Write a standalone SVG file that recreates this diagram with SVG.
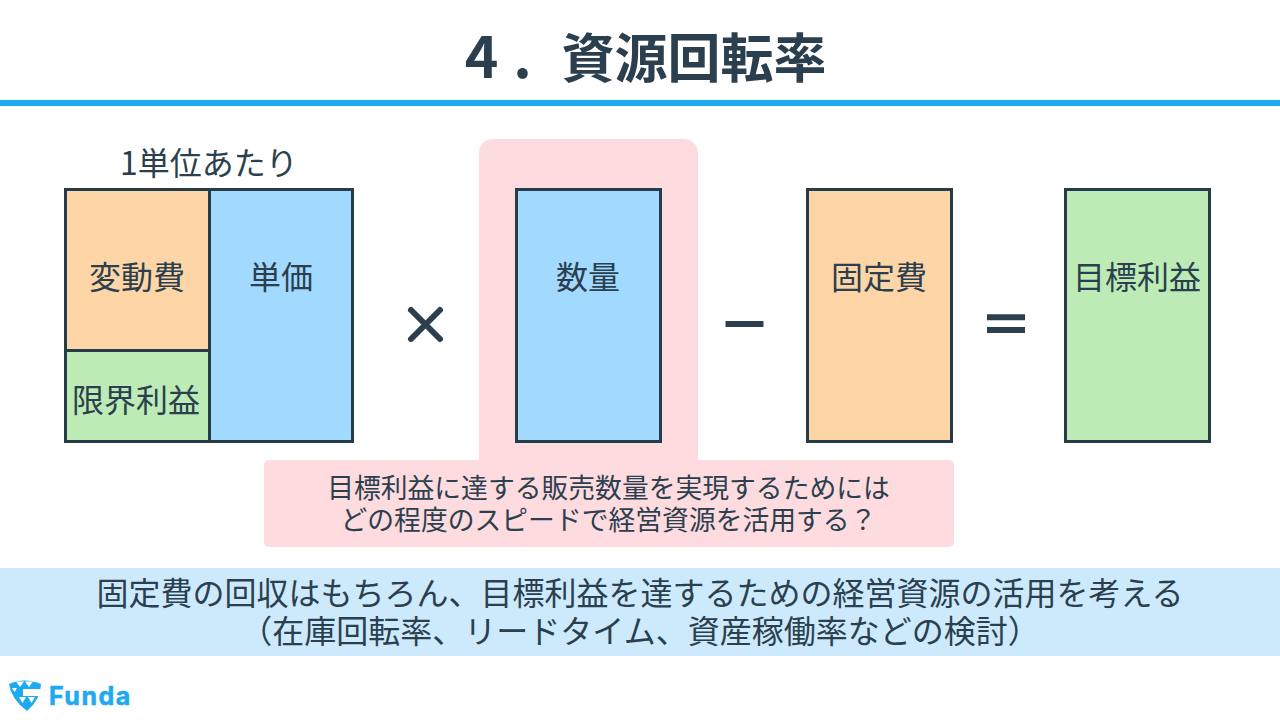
<svg xmlns="http://www.w3.org/2000/svg" width="1280" height="720" viewBox="0 0 1280 720">
<style>
text{font-family:"Noto Sans CJK JP","Noto Sans",sans-serif;fill:#2b3f4e;text-anchor:middle}
.box{stroke:#263c49;stroke-width:3}
.o{fill:#fed5a7}.b{fill:#a2daff}.g{fill:#bdebb5}.p{fill:#fedbdf}
.l{font-size:32px}.s{font-size:26.800px}.m{font-size:32px}
.op{fill:none;stroke:#2b3f4e;stroke-width:6}
.w{fill:#fff}
</style>
<rect width="1280" height="720" fill="#fff"/>
<g id="title"><text y="78" font-weight="700"><tspan x="481.500" font-size="57">4</tspan><tspan x="522.500" font-size="57">.</tspan><tspan x="694" font-size="53">資源回転率</tspan></text><rect y="100" width="1280" height="6" fill="#1eaaf1"/></g>
<g id="highlight"><rect class="p" x="479" y="139" width="219" height="340" rx="14"/></g>
<g id="unit-label"><text class="m" x="209" y="175">1単位あたり</text></g>
<g id="n-hendo"><rect class="box o" x="65.500" y="189.500" width="144" height="161"/><text class="l" x="137" y="289">変動費</text></g>
<g id="n-genkai"><rect class="box g" x="65.500" y="350.500" width="144" height="91"/><text class="l" x="136" y="412">限界利益</text></g>
<g id="n-tanka"><rect class="box b" x="209.500" y="189.500" width="143" height="252"/><text class="l" x="281" y="289">単価</text></g>
<g id="n-suryo"><rect class="box b" x="516.500" y="189.500" width="144" height="252"/><text class="l" x="588" y="289">数量</text></g>
<g id="n-kotei"><rect class="box o" x="807.500" y="189.500" width="144" height="252"/><text class="l" x="879" y="289">固定費</text></g>
<g id="n-mokuhyo"><rect class="box g" x="1065.500" y="189.500" width="144" height="252"/><text class="l" x="1137" y="289">目標利益</text></g>
<g id="operators">
<path class="op" stroke-linecap="round" d="M411 310 L440 339 M440 310 L411 339"/>
<path class="op" d="M725.500 324 H763.500"/>
<path class="op" d="M987 317.300 H1025 M987 330 H1025"/>
</g>
<g id="callout"><rect class="p" x="264" y="460" width="690" height="87" rx="5"/>
<text class="s" x="608.500" y="498">目標利益に達する販売数量を実現するためには</text>
<text class="s" x="608.500" y="530">どの程度のスピードで経営資源を活用する？</text></g>
<g id="summary"><rect y="568" width="1280" height="88" fill="#cdeafd"/>
<text class="m" x="640" y="605">固定費の回収はもちろん、目標利益を達するための経営資源の活用を考える</text>
<text class="m" x="640" y="643">（在庫回転率、リードタイム、資産稼働率などの検討）</text></g>
<g id="logo">
<path d="M9 684 Q24 677 41 684 Q41 699 27 711 Q11 699 9 684Z" fill="#1eaaf1"/>
<path class="w" d="M16 681.500H24L20 687ZM25 681.500H33L29 687ZM12 688L17 688 14.500 692ZM23 689H41L40 696H23ZM19 697H26L22.500 703ZM28 697H35L31.500 703Z"/>
<text x="49" y="705" font-size="25" font-weight="700" letter-spacing="1.500" stroke="#1eaaf1" stroke-width="0.6" stroke-linejoin="round" style="fill:#1eaaf1;font-family:Inter,sans-serif;text-anchor:start">Funda</text>
</g>
</svg>
